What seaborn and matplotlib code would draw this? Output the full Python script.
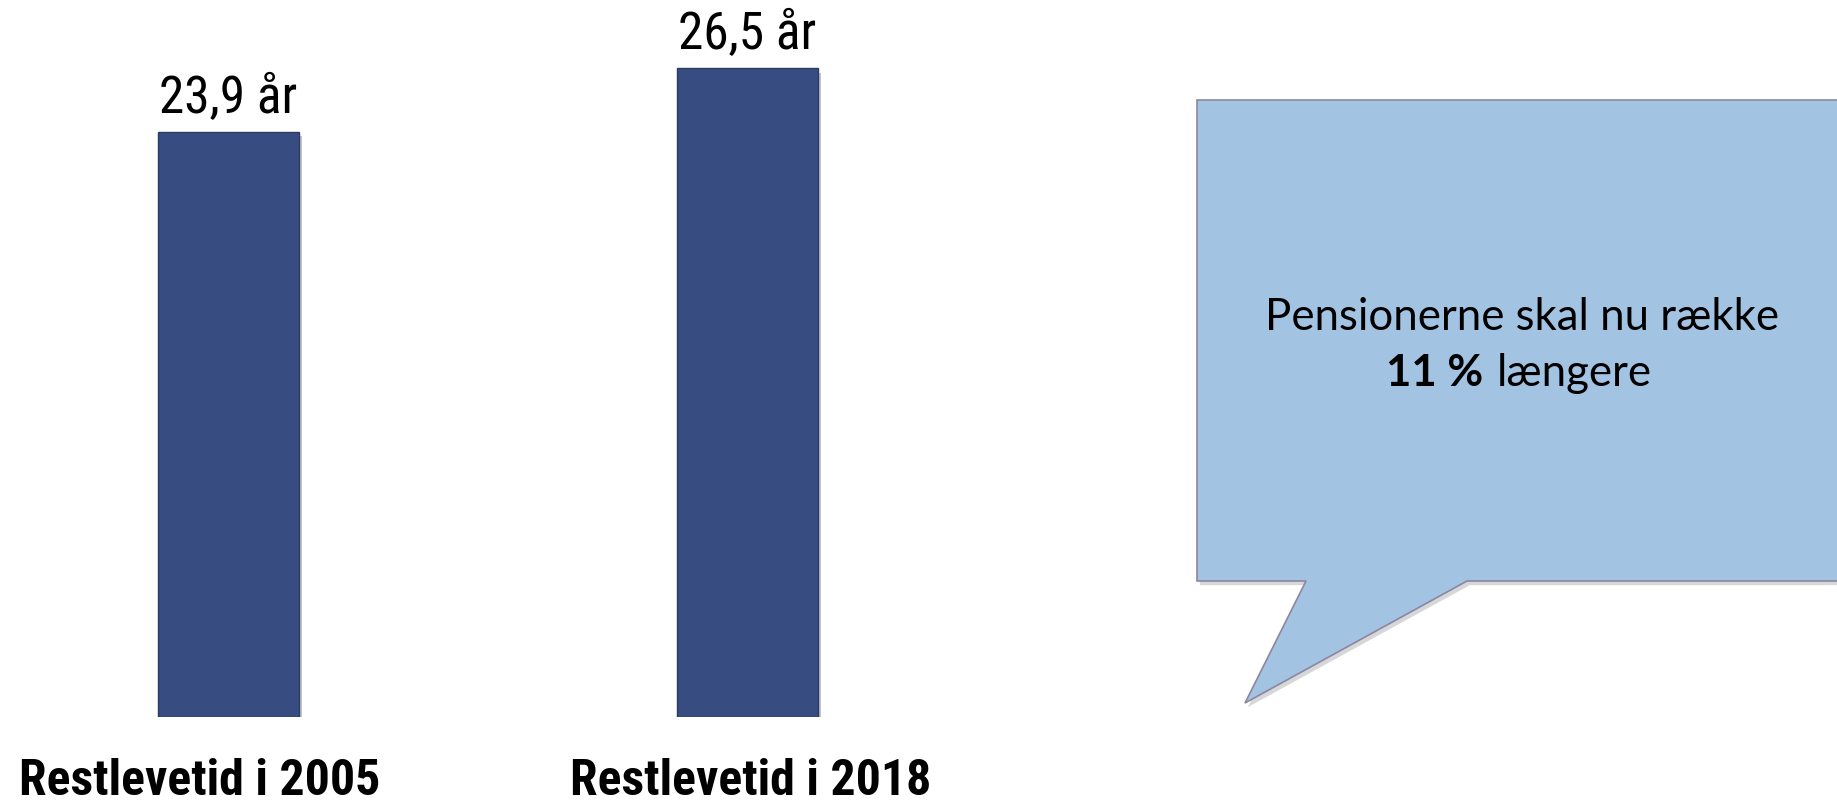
import numpy as np
import pandas as pd
import matplotlib
matplotlib.use("Agg")
import matplotlib.pyplot as plt
import matplotlib.patheffects as pe
from matplotlib import font_manager as fm
from matplotlib.patches import Polygon
import seaborn as sns

# data
categories = ["Restlevetid i 2005", "Restlevetid i 2018"]
values = [23.9, 26.5]
value_labels = ["23,9 år", "26,5 år"]
callout_line1 = "Pensionerne skal nu række"
callout_bold = "11 %"
callout_rest = "længere"

W, H = 1837, 808
sns.set_theme(style="white")
plt.rcParams["font.family"] = ["Liberation Sans", "DejaVu Sans"]
body = ["Lato", "DejaVu Sans"]


def narrow_font(bold):
    # look for an installed narrow / condensed face, like Arial Narrow in the original
    prefs = ["liberation sans narrow", "liberationsansnarrow", "robotocondensed", "roboto condensed",
             "dejavusanscondensed", "dejavu sans condensed", "opensans-condensed", "opensans_condensed",
             "open sans condensed", "notosans-condensed", "noto sans condensed"]
    best = None
    for f in fm.fontManager.ttflist:
        key = (f.name + " " + f.fname.split("/")[-1]).lower()
        if not any(w in key for w in ("narrow", "condensed")) and f.stretch not in ("condensed", "semi-condensed"):
            continue
        if any(w in key for w in ("italic", "oblique", "extra", "semi", "light", "thin", "black", "medium", "[")):
            continue
        isbold = ("bold" in key) or (isinstance(f.weight, int) and f.weight >= 600)
        if isbold != bold:
            continue
        rank = next((i for i, p in enumerate(prefs) if p in key), len(prefs))
        if best is None or rank < best[0]:
            best = (rank, f.fname)
    if best is None:
        return fm.FontProperties(family="Liberation Sans", weight="bold" if bold else "normal")
    return fm.FontProperties(fname=best[1])


fp_bold = narrow_font(True)
fp_reg = narrow_font(False)

fig = plt.figure(figsize=(W / 100, H / 100), dpi=100)
# axes: bottom at the bars' base (pixel 717 from top), full width
ax = fig.add_axes([0, 1 - 717 / H, 1, 717 / H])

df = pd.DataFrame({"cat": categories, "val": values})
sns.barplot(data=df, x="cat", y="val", color="#374C80", width=0.272,
            edgecolor="#2B3B66", linewidth=1, saturation=1, ax=ax)

for p in ax.patches:
    p.set_path_effects([pe.SimplePatchShadow(offset=(2, -3), alpha=0.25), pe.Normal()])

# scale: 585 px for 23.9 units, first bar centred at x=228.5 px, 519 px per category
ppu = 585 / 23.9
ax.set_ylim(0, 717 / ppu)
ax.set_xlim(-228.5 / 519, (W - 228.5) / 519)
sns.despine(ax=ax, left=True, bottom=True)
ax.set_yticks([])
ax.set_xticks([])
ax.set_xlabel("")
ax.set_ylabel("")

px = 0.72  # points per pixel at dpi 100
val_texts = []
for p, lab in zip(ax.patches, value_labels):
    t = ax.annotate(lab, (p.get_x() + p.get_width() / 2, p.get_height()),
                    xytext=(0, 19 * px), textcoords="offset points",
                    ha="center", va="baseline", fontproperties=fp_reg, color="black")
    t.set_fontsize(30)
    val_texts.append(t)

cat_shift = [-29, 3]
cat_texts = []
for i, lab in enumerate(categories):
    t = ax.annotate(lab, (i, 0), xycoords=("data", "axes fraction"),
                    xytext=(cat_shift[i] * px, -78 * px), textcoords="offset points",
                    ha="center", va="baseline", fontproperties=fp_bold, color="black",
                    annotation_clip=False)
    t.set_fontsize(30)
    cat_texts.append(t)

# fit text widths to the reference
fig.canvas.draw()
r = fig.canvas.get_renderer()
for t in val_texts:
    w = t.get_window_extent(r).width
    t.set_fontsize(30 * 138 / w)
for t in cat_texts:
    w = t.get_window_extent(r).width
    t.set_fontsize(30 * 362 / w)

# speech bubble (figure pixels from top-left)
pts_px = [(1197, 100), (W + 10, 100), (W + 10, 581), (1467, 581),
          (1245, 703), (1306, 581), (1197, 581)]
pts = [(x / W, 1 - y / H) for x, y in pts_px]
bubble = Polygon(pts, closed=True, transform=fig.transFigure, facecolor="#A3C3E2",
                 edgecolor="#8E86A0", linewidth=1.2, zorder=1)
bubble.set_path_effects([pe.SimplePatchShadow(offset=(2, -3), alpha=0.2), pe.Normal()])
fig.patches.append(bubble)

fig.text(1522 / W, 1 - 317 / H, callout_line1, ha="center", va="center",
         fontsize=31.5, family=body, color="black")
fig.text(1483 / W, 1 - 373 / H, callout_bold, ha="right", va="center",
         fontsize=31.5, family=body, fontweight="bold", color="black")
fig.text(1497 / W, 1 - 373 / H, callout_rest, ha="left", va="center",
         fontsize=31.5, family=body, color="black")

fig.savefig("out.png", dpi=100, facecolor="white")
